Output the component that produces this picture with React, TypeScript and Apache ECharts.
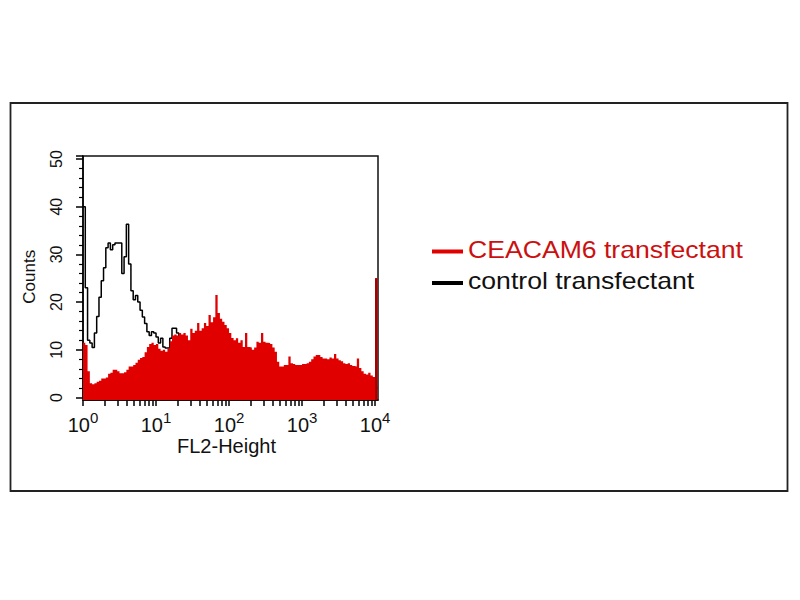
import React, { useEffect, useRef } from 'react';
import * as echarts from 'echarts';

// Histogram bins: 32 channels per decade, log10(FL2-Height) from 10^0 to 10^4
const BIN_WIDTH = 1 / 32;

const ceacam6Counts = [
  11.5, 11, 5.5, 3, 2.8, 3, 3.3, 3.5, 4, 4, 4.2, 5, 5.2, 5.8, 5.8, 5.5,
  5.1, 5.1, 5.3, 5.8, 6.5, 6.5, 6.8, 7.3, 7.9, 8.3, 8.5, 9.5, 10.6, 11.2, 11.5, 11,
  11.2, 10.2, 9.8, 10, 9.6, 10.2, 11.8, 13, 13.2, 13, 13.5, 13.2, 13.5, 13, 12, 14.4,
  13.5, 14, 15.6, 14, 14.5, 15.6, 15, 17.3, 15.8, 16.8, 21.5, 17.7, 16.5, 15.9, 15.2, 14.5,
  13.5, 12.5, 12, 12.4, 11.5, 12, 10.6, 13.5, 10.6, 10.5, 10, 10.5, 11.7, 11.5, 13.5, 11.7,
  11.5, 11.4, 11.2, 10.5, 9.6, 7.5, 6.5, 6.5, 6.8, 6.8, 8.6, 7.2, 7, 6.8, 6.8, 6.8,
  7, 7, 7.2, 7.5, 8, 8.6, 8.9, 8.9, 8.5, 8.2, 8.2, 8, 8.4, 8.2, 9.1, 8.2,
  7.8, 7.6, 7.2, 7, 7.2, 6.8, 6.6, 6.5, 8.2, 6.2, 5.5, 5, 4.8, 5.2, 4.6, 4.3,
  25,
];

const controlCounts = [
  40, 23, 12, 11.4, 10.5, 13.5, 17, 21, 24.5, 27.2, 31.4, 32.4, 31, 32, 32.4, 32.4,
  32.4, 26, 29.5, 36.3, 28, 22.4, 20.5, 21.4, 20, 18.3, 16.9, 15.5, 13.8, 13, 13.8, 13.5,
  12.7, 11.4, 12.4, 10.6, 10.4, 10.4, 12.4, 14.5, 14.5, 13.5, 12, 11.5, 10, 10.5, 9, 9.5,
  8, 8.5, 7, 7.5, 6.5, 6, 5.5, 6, 5, 4.5, 5, 4, 4.5, 3.5, 4, 3,
  3.5, 3, 2.5, 3, 2, 2.5, 2, 1.5, 2, 1.5, 1, 1.5, 1, 1, 0.8, 1,
  0.8, 0.6, 0.8, 0.5, 0.6, 0.5, 0.5, 0.4, 0.5, 0.4, 0.4, 0.5, 0.4, 0.3, 0.4, 0.3,
  0.3, 0.4, 0.3, 0.3, 0.2, 0.3, 0.3, 0.2, 0.3, 0.2, 0.2, 0.3, 0.2, 0.2, 0.2, 0.2,
  0.2, 0.2, 0.2, 0.2, 0.2, 0.2, 0.2, 0.2, 0.2, 0.2, 0.2, 0.2, 0.2, 0.2, 0.2, 0.2,
  2,
];

const decadeExponents = [0, 1, 2, 3, 4];
const decadeMultipliers = [1, 2, 3, 4, 5, 6, 7, 8, 9];
const yTickLabels = [0, 10, 20, 30, 40, 50];
const Y_MAX = 50.63;
const Y_BASE = -0.52; // fill reaches slightly below the zero tick, down to the x axis line

const legendNames = ['CEACAM6 transfectant', 'control transfectant'];
const legendColors = ['#e00000', '#000000'];

const FONT = '"Liberation Sans", Arial, sans-serif';

function toSteps(counts: number[]) {
  const pts: number[][] = counts.map((c, i) => [i * BIN_WIDTH, c]);
  pts.push([counts.length * BIN_WIDTH, counts[counts.length - 1]]);
  return pts;
}

export default function App() {
  const ref = useRef<HTMLDivElement>(null);

  useEffect(() => {
    if (!ref.current) return;
    const chart = echarts.init(ref.current, undefined, { renderer: 'svg' });

    const xTicks: number[] = [];
    decadeExponents.slice(0, 4).forEach((d) => {
      decadeMultipliers.forEach((m) => xTicks.push(d + Math.log10(m)));
    });
    xTicks.push(4);

    const lastIdx = ceacam6Counts.length - 1;
    const spikeData = [
      [lastIdx * BIN_WIDTH, ceacam6Counts[lastIdx]],
      [(lastIdx + 1) * BIN_WIDTH, ceacam6Counts[lastIdx]],
    ];

    const GRID_LEFT = 83;

    const baseGraphics: any[] = [
      {
        id: 'outerFrame',
        type: 'rect',
        shape: { x: 10.5, y: 103, width: 777, height: 388 },
        style: { fill: 'none', stroke: '#222', lineWidth: 1.8 },
        silent: true,
      },
      {
        id: 'plotFrame',
        type: 'rect',
        shape: { x: 83, y: 156, width: 295, height: 244 },
        style: { fill: 'none', stroke: '#111', lineWidth: 1.5 },
        silent: true,
      },
      {
        id: 'legLine0',
        type: 'line',
        shape: { x1: 432, y1: 251.5, x2: 463, y2: 251.5 },
        style: { stroke: legendColors[0], lineWidth: 4 },
      },
      {
        id: 'legText0',
        type: 'text',
        x: 468,
        y: 250,
        scaleX: 1.157,
        style: {
          text: legendNames[0],
          fontFamily: FONT,
          fontSize: 23,
          fill: '#cc1010',
          verticalAlign: 'middle',
          align: 'left',
        },
      },
      {
        id: 'legLine1',
        type: 'line',
        shape: { x1: 432, y1: 283, x2: 463, y2: 283 },
        style: { stroke: legendColors[1], lineWidth: 4 },
      },
      {
        id: 'legText1',
        type: 'text',
        x: 468,
        y: 281,
        scaleX: 1.157,
        style: {
          text: legendNames[1],
          fontFamily: FONT,
          fontSize: 23,
          fill: '#111',
          verticalAlign: 'middle',
          align: 'left',
        },
      },
    ];

    const option: any = {
      animation: false,
      backgroundColor: '#ffffff',
      grid: {
        left: GRID_LEFT,
        right: 422,
        top: 156,
        bottom: 202.5,
        show: false,
      },
      xAxis: {
        type: 'value',
        min: 0,
        max: 4.04,
        offset: 2.5,
        name: 'FL2-Height',
        nameLocation: 'middle',
        nameGap: 36,
        nameTextStyle: { fontFamily: FONT, fontSize: 20, color: '#111', padding: [0, 8, 0, 0] },
        axisLine: { show: true, onZero: false, lineStyle: { color: '#000', width: 1.5 } },
        axisTick: { show: true, customValues: xTicks, length: 6, lineStyle: { color: '#000', width: 1.5 } },
        axisLabel: {
          customValues: decadeExponents,
          margin: 10,
          formatter: (v: number) => `{b|10}{s|${Math.round(v)}}`,
          rich: {
            b: { fontFamily: FONT, fontSize: 20, color: '#111', verticalAlign: 'bottom' },
            s: { fontFamily: FONT, fontSize: 15, color: '#111', padding: [0, 0, 10, 0], verticalAlign: 'bottom' },
          },
        },
        splitLine: { show: false },
      },
      yAxis: {
        type: 'value',
        min: 0,
        max: Y_MAX,
        interval: 10,
        name: 'Counts',
        nameLocation: 'middle',
        nameGap: 45,
        nameRotate: 90,
        nameTextStyle: { fontFamily: FONT, fontSize: 17, color: '#111' },
        axisLine: { show: true, lineStyle: { color: '#000', width: 1.5 } },
        axisTick: { show: true, length: 7, lineStyle: { color: '#000', width: 1.5 } },
        minorTick: { show: true, splitNumber: 5, length: 4, lineStyle: { color: '#000', width: 1.2 } },
        axisLabel: { show: false },
        splitLine: { show: false },
        minorSplitLine: { show: false },
      },
      series: [
        {
          name: legendNames[1],
          type: 'line',
          step: 'end',
          z: 2,
          clip: false,
          data: toSteps(controlCounts),
          showSymbol: false,
          lineStyle: { color: legendColors[1], width: 1.5 },
        },
        {
          name: legendNames[0],
          type: 'line',
          step: 'end',
          z: 3,
          clip: false,
          data: toSteps(ceacam6Counts),
          showSymbol: false,
          lineStyle: { width: 0, color: legendColors[0] },
          areaStyle: { color: legendColors[0], opacity: 1, origin: Y_BASE },
        },
        {
          name: 'edge',
          type: 'line',
          step: 'end',
          z: 4,
          clip: false,
          data: spikeData,
          showSymbol: false,
          lineStyle: { width: 0, color: '#a00000' },
          areaStyle: { color: '#a00000', opacity: 1, origin: Y_BASE },
        },
      ],
      graphic: baseGraphics,
    };

    chart.setOption(option);

    // Rotated y tick labels, positioned through the y axis scale
    const yLabelGraphics = yTickLabels.map((v) => ({
      id: 'ylab' + v,
      type: 'text',
      x: GRID_LEFT - 27,
      y: chart.convertToPixel({ yAxisIndex: 0 }, v) as number,
      rotation: Math.PI / 2,
      style: {
        text: String(v),
        fontFamily: FONT,
        fontSize: 16,
        fill: '#111',
        align: 'center',
        verticalAlign: 'middle',
      },
    }));
    chart.setOption({ graphic: [...baseGraphics, ...yLabelGraphics] });

    return () => chart.dispose();
  }, []);

  return (
    <div
      ref={ref}
      style={{ position: 'absolute', left: 0, top: 0, width: 800, height: 600, background: '#fff' }}
    />
  );
}
